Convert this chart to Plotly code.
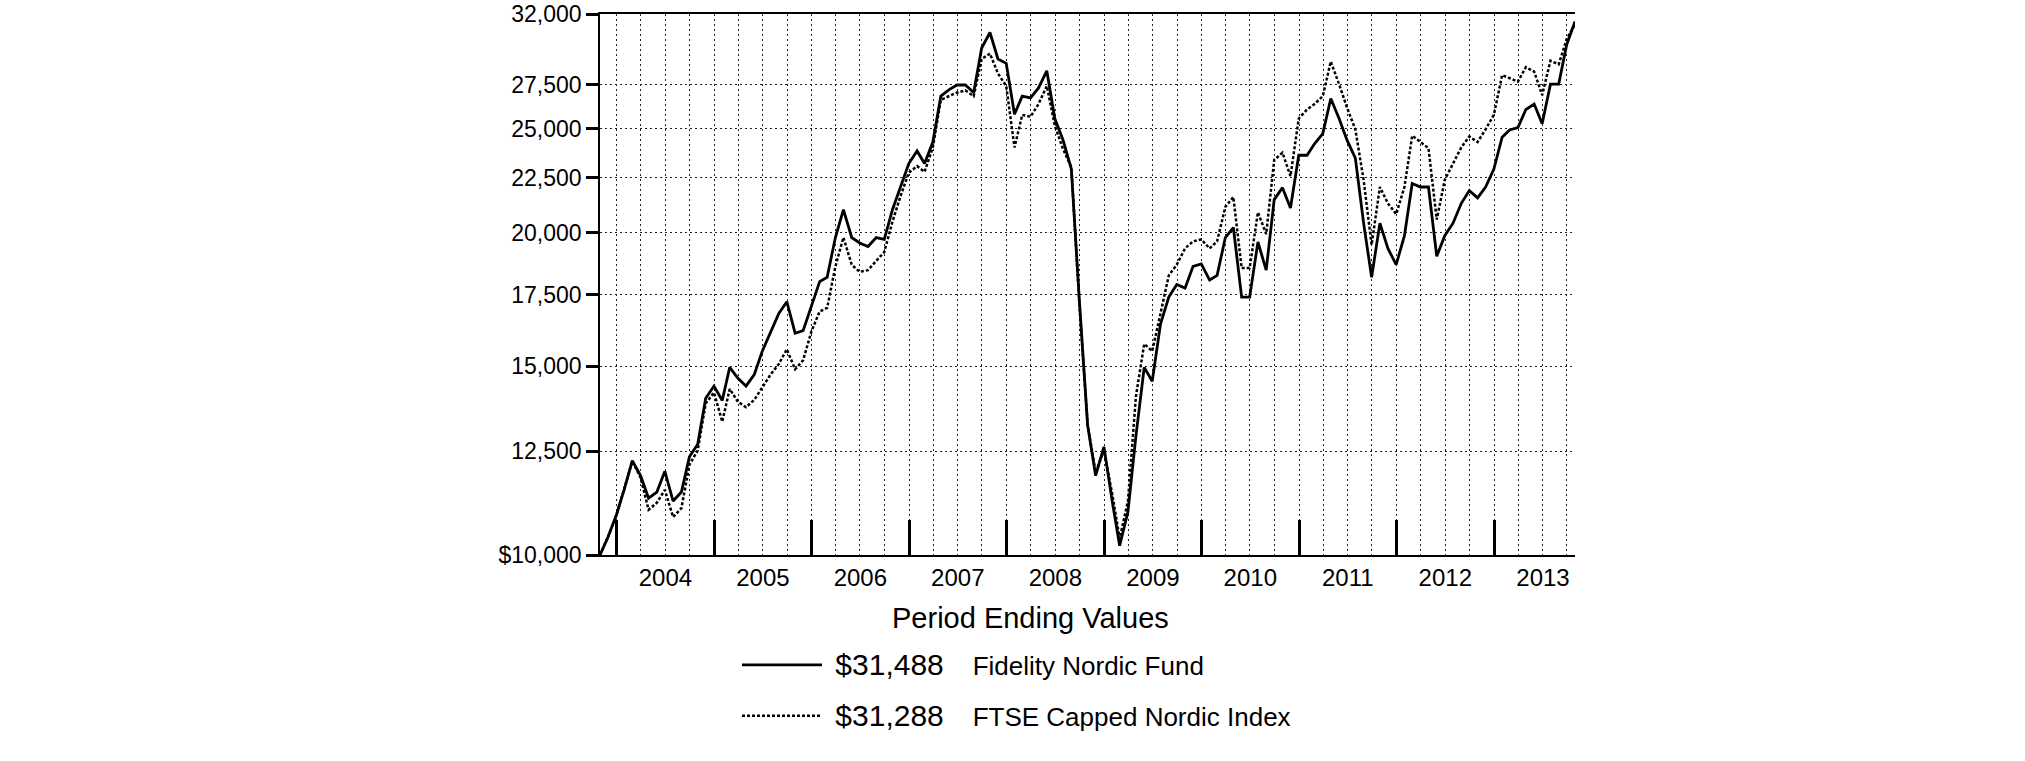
import math
import pandas as pd
import plotly.graph_objects as go

# ---------------- data ----------------
start_month = "2003-10-31"
n_months = 121
months = pd.date_range(start=start_month, periods=n_months, freq=pd.offsets.MonthEnd())

fund_name = "Fidelity Nordic Fund"
index_name = "FTSE Capped Nordic Index"
fund_end_label = "$31,488"
index_end_label = "$31,288"
legend_title = "Period Ending Values"

fund_values = [
    10000, 10395, 10890, 11540, 12250, 11860, 11300, 11450, 11970, 11230,
    11450, 12350, 12690, 14010, 14380, 13940, 14970, 14620, 14380, 14740,
    15500, 16170, 16810, 17240, 16110, 16200, 17080, 18000, 18170, 19790,
    21010, 19790, 19560, 19410, 19790, 19710, 21020, 22060, 23200, 23840,
    23200, 24300, 26820, 27200, 27470, 27470, 27030, 29740, 30750, 29050,
    28780, 25800, 26820, 26720, 27300, 28320, 25560, 24400, 22930, 17300,
    13220, 11860, 12620, 11230, 10200, 10975, 12920, 14970, 14530, 16430,
    17410, 17890, 17750, 18600, 18700, 18060, 18240, 19790, 20220, 17410,
    17410, 19600, 18450, 21470, 22030, 21090, 23620, 23620, 24210, 24740,
    26680, 25560, 24400, 23470, 20410, 18170, 20410, 19330, 18670, 19870,
    22230, 22060, 22060, 19010, 19870, 20410, 21300, 21890, 21550, 22060,
    22930, 24550, 24940, 25070, 26060, 26370, 25270, 27520, 27520, 29970,
    31488,
]

index_values = [
    10000, 10395, 10890, 11540, 12230, 11810, 11020, 11190, 11500, 10850,
    11060, 12140, 12520, 13850, 14180, 13320, 14290, 13900, 13740, 13960,
    14340, 14740, 15080, 15560, 14910, 15200, 16170, 16880, 17010, 18600,
    19790, 18670, 18380, 18450, 18820, 19180, 20490, 21630, 22750, 23070,
    22790, 24020, 26610, 26820, 27030, 27150, 26820, 29050, 29390, 28160,
    27410, 24020, 25760, 25660, 26370, 27410, 25170, 23930, 23020, 17140,
    13220, 11950, 12520, 11410, 10360, 11230, 14070, 15740, 15500, 16810,
    18240, 18670, 19330, 19630, 19710, 19330, 19630, 21140, 21590, 18530,
    18530, 20890, 19940, 23380, 23750, 22580, 25560, 26060, 26370, 26820,
    28890, 27520, 26160, 24970, 22400, 19480, 22060, 21300, 20810, 22060,
    24630, 24300, 23980, 20570, 22400, 23200, 24020, 24590, 24300, 24970,
    25760, 28060, 27880, 27670, 28540, 28270, 26880, 28940, 28720, 30320,
    31288,
]

y_tick_values = [10000, 12500, 15000, 17500, 20000, 22500, 25000, 27500, 32000]
y_tick_labels = ["$10,000", "12,500", "15,000", "17,500", "20,000",
                 "22,500", "25,000", "27,500", "32,000"]

year_tick_start = "2004-01-01"

# ---------------- figure ----------------
FONT = "Arial, 'Liberation Sans', sans-serif"
NBSP = "\u00a0"


def legend_label(value, name):
    return (f"<span style='font-size:30px'>{NBSP}{value}</span>"
            + NBSP * 4 + name)


fig = go.Figure()
fig.add_trace(go.Scatter(
    x=months, y=fund_values, mode="lines",
    name=legend_label(fund_end_label, fund_name),
    legendgroup="fund",
    line=dict(color="black", width=2.8),
))
fig.add_trace(go.Scatter(
    x=months, y=index_values, mode="lines",
    name=legend_label(index_end_label, index_name),
    legendgroup="index",
    line=dict(color="black", width=2.5, dash="3px,2px"),
))

fig.update_layout(
    width=2025, height=761,
    margin=dict(l=600, r=450, t=14, b=206, pad=0, autoexpand=False),
    paper_bgcolor="white", plot_bgcolor="white",
    font=dict(family=FONT, color="black"),
    showlegend=True,
    legend=dict(
        x=0.1405, xanchor="left", y=-0.16, yanchor="top",
        font=dict(family=FONT, size=26, color="black"),
        bgcolor="rgba(0,0,0,0)",
        itemwidth=80,
        tracegroupgap=14,
    ),
    annotations=[dict(
        text=legend_title, xref="paper", yref="paper",
        x=0.442, y=-0.1165, xanchor="center", yanchor="middle",
        showarrow=False, font=dict(family=FONT, size=29, color="black"),
    )],
    xaxis=dict(
        type="date",
        range=[months[0], months[-1]],
        tick0=year_tick_start, dtick="M12",
        ticklabelmode="period", tickformat="%Y",
        ticks="inside", ticklen=35, tickwidth=2.5, tickcolor="black",
        tickfont=dict(family=FONT, size=24, color="black"),
        showgrid=True, gridcolor="#222222", gridwidth=1, griddash="2px,3px",
        minor=dict(dtick="M3", showgrid=True, gridcolor="#222222",
                   gridwidth=1, griddash="2px,3px", ticks=""),
        showline=True, linecolor="black", linewidth=1.5, mirror=True,
        zeroline=False, automargin=False,
    ),
    yaxis=dict(
        type="log",
        range=[math.log10(y_tick_values[0]), math.log10(y_tick_values[-1])],
        tickmode="array", tickvals=y_tick_values, ticktext=y_tick_labels,
        ticks="outside", ticklen=12, tickwidth=3, tickcolor="black",
        tickfont=dict(family=FONT, size=23, color="black"),
        showgrid=True, gridcolor="#222222", gridwidth=1, griddash="2px,3px",
        showline=True, linecolor="black", linewidth=1.5,
        zeroline=False, automargin=False,
    ),
)

fig.write_html("out.html", config={"displayModeBar": False},
               post_script="document.body.style.margin='0';")
